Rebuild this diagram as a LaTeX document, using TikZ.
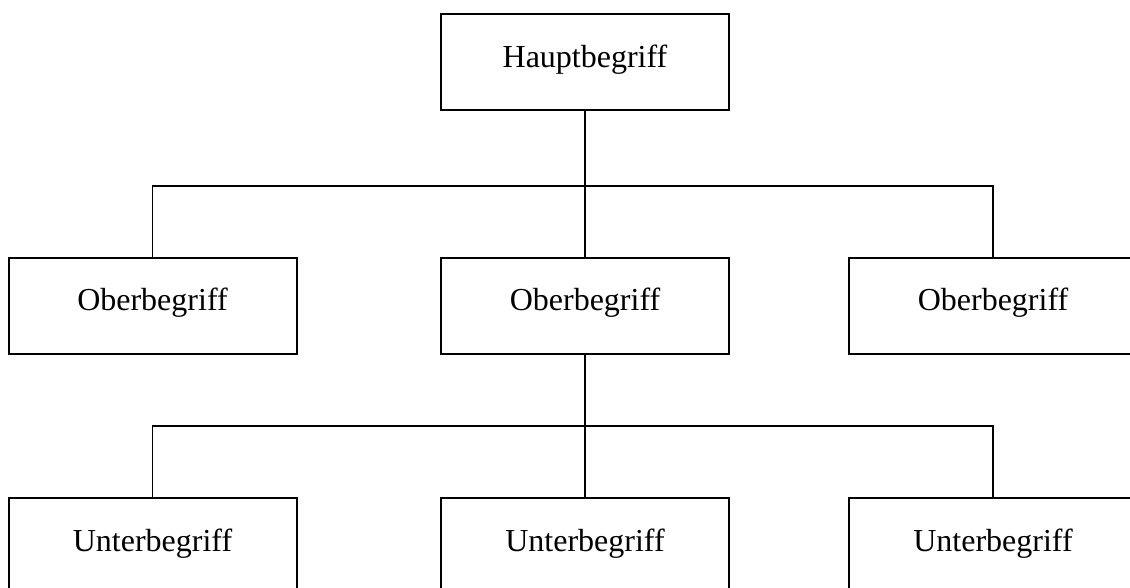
\documentclass[tikz,border=0pt]{standalone}
\usepackage{fontspec}
\setmainfont{Liberation Serif}
\usetikzlibrary{positioning}
\tikzset{every picture/.style={line width=0.75pt}}
\tikzset{
  begriff/.style={draw, line width=1.5pt, minimum width=216pt, minimum height=72pt, inner sep=0pt,
    font=\fontsize{24}{28}\selectfont, text height=25pt, text depth=17.5pt},
  verbinder/.style={line width=1.1pt}
}

\begin{document}
\begin{tikzpicture}[x=0.75pt,y=0.75pt,yscale=-1,xscale=1]
%set diagram to 1130 x 588
\useasboundingbox (0,0) rectangle (1130,588);
\clip (0,0) rectangle (1130,588);

%Shape: Rectangle [Hauptbegriff]
\node [begriff] (haupt) at (585,62.5) {Hauptbegriff};

%Shape: Rectangle [Oberbegriffe]
\node [begriff] (oberL) at (152.5,305.5) {Oberbegriff};
\node [begriff] (oberM) at (585,305.5) {Oberbegriff};
\node [begriff] (oberR) at (993,305.5) {Oberbegriff};

%Shape: Rectangle [Unterbegriffe]
\node [begriff] (unterL) at (152.5,546) {Unterbegriff};
\node [begriff] (unterM) at (585,546) {Unterbegriff};
\node [begriff] (unterR) at (993,546) {Unterbegriff};

%Straight Lines [Haupt -> Ober]
\coordinate (ast1) at (585,186);
\draw [verbinder] (haupt.south) -- (ast1) -- (oberM.north);
\draw [verbinder] (oberL.north) |- (ast1) -| (oberR.north);

%Straight Lines [Ober -> Unter]
\coordinate (ast2) at (585,426);
\draw [verbinder] (oberM.south) -- (ast2) -- (unterM.north);
\draw [verbinder] (unterL.north) |- (ast2) -| (unterR.north);

\end{tikzpicture}
\end{document}
